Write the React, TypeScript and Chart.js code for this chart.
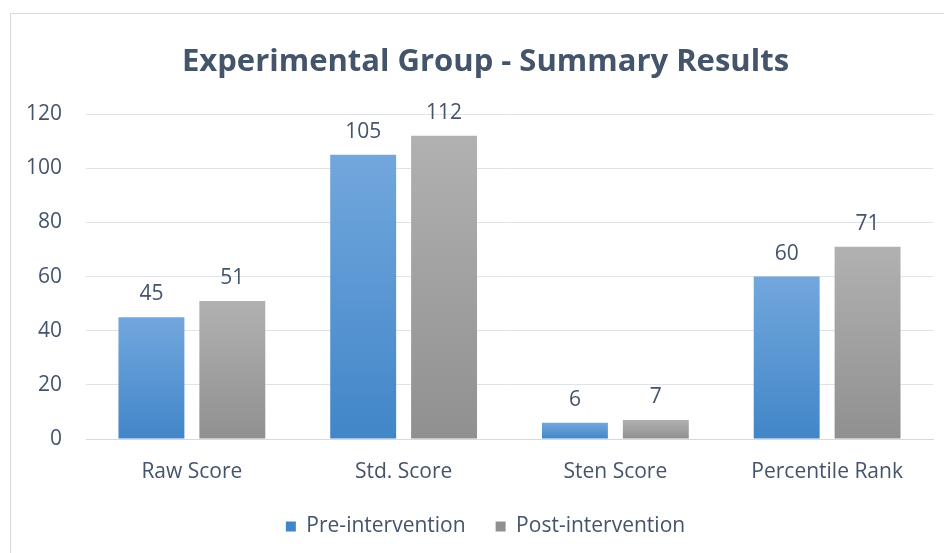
import React, { useEffect, useRef } from "react";
import { Chart, registerables } from "chart.js";

Chart.register(...registerables);

const categories = ["Raw Score", "Std. Score", "Sten Score", "Percentile Rank"];
const preValues = [45, 105, 6, 60];
const postValues = [51, 112, 7, 71];
const seriesNames = ["Pre-intervention", "Post-intervention"];
const yTicks = [0, 20, 40, 60, 80, 100, 120];
const titleText = "Experimental Group - Summary Results";

const FONT = "'Open Sans', 'Noto Sans', sans-serif";
const TEXT = "#44546a";

function makeFill(top: string, bottom: string, solid: string) {
  return (ctx: any) => {
    if (ctx.type !== "data") return solid;
    const chart = ctx.chart;
    if (!chart.chartArea || !chart.scales.y) return solid;
    const y = chart.scales.y;
    const t = y.getPixelForValue(ctx.raw);
    const b = y.getPixelForValue(0);
    if (!isFinite(t) || !isFinite(b) || t === b) return solid;
    const g = chart.ctx.createLinearGradient(0, t, 0, b);
    g.addColorStop(0, top);
    g.addColorStop(1, bottom);
    return g;
  };
}

const valueLabels = {
  id: "valueLabels",
  afterDatasetsDraw(chart: any) {
    const c = chart.ctx;
    c.save();
    c.font = `21px ${FONT}`;
    c.fillStyle = TEXT;
    c.textAlign = "center";
    c.textBaseline = "alphabetic";
    chart.data.datasets.forEach((ds: any, i: number) => {
      const meta = chart.getDatasetMeta(i);
      meta.data.forEach((el: any, j: number) => {
        c.fillText(String(ds.data[j]), el.x, el.y - 17);
      });
    });
    c.restore();
  },
};

export default function App() {
  const ref = useRef<HTMLCanvasElement>(null);
  useEffect(() => {
    if (!ref.current) return;
    const chart = new Chart(ref.current, {
      type: "bar",
      data: {
        labels: categories,
        datasets: [
          {
            label: seriesNames[0],
            data: preValues,
            backgroundColor: makeFill("#72a7dd", "#4186c8", "#5b9bd5"),
            categoryPercentage: 0.764,
            barPercentage: 0.815,
          },
          {
            label: seriesNames[1],
            data: postValues,
            backgroundColor: makeFill("#b1b1b1", "#909090", "#a5a5a5"),
            categoryPercentage: 0.764,
            barPercentage: 0.815,
          },
        ],
      },
      options: {
        responsive: false,
        animation: false,
        layout: { padding: { left: 0, right: 0, top: 0, bottom: 6 } },
        plugins: {
          title: {
            display: true,
            text: titleText,
            color: TEXT,
            font: { family: FONT, size: 31, weight: "bold" },
            padding: { top: 30, bottom: 33 },
          },
          legend: {
            position: "bottom",
            labels: {
              color: TEXT,
              font: { family: FONT, size: 21 },
              boxWidth: 10,
              boxHeight: 10,
              padding: 30,
            },
          },
          tooltip: { enabled: false },
        },
        scales: {
          x: {
            grid: { display: false, drawTicks: false },
            border: { color: "#d9d9d9" },
            ticks: { color: TEXT, font: { family: FONT, size: 21 }, padding: 20 },
            afterFit: (s: any) => {
              s.height = 47;
            },
          },
          y: {
            min: 0,
            max: 120,
            afterBuildTicks: (axis: any) => {
              axis.ticks = yTicks.map((v) => ({ value: v }));
            },
            grid: { color: "#dfe3e8", drawTicks: false },
            border: { display: false },
            ticks: { color: TEXT, font: { family: FONT, size: 21 }, padding: 24 },
            afterFit: (s: any) => {
              s.width = 75;
            },
          },
          yRight: {
            type: "linear",
            position: "right",
            display: true,
            grid: { display: false, drawTicks: false },
            border: { display: false },
            ticks: { display: false },
            afterFit: (s: any) => {
              s.width = 27;
            },
          },
        },
      },
      plugins: [valueLabels],
    });
    return () => chart.destroy();
  }, []);
  return (
    <div style={{ position: "fixed", inset: 0, overflow: "hidden", background: "#fff" }}>
      <div
        style={{
          position: "absolute",
          left: 10,
          top: 13,
          width: 1000,
          height: 600,
          border: "1px solid #d9d9d9",
          boxSizing: "border-box",
        }}
      >
        <canvas ref={ref} width={949} height={539} style={{ display: "block" }} />
      </div>
    </div>
  );
}
